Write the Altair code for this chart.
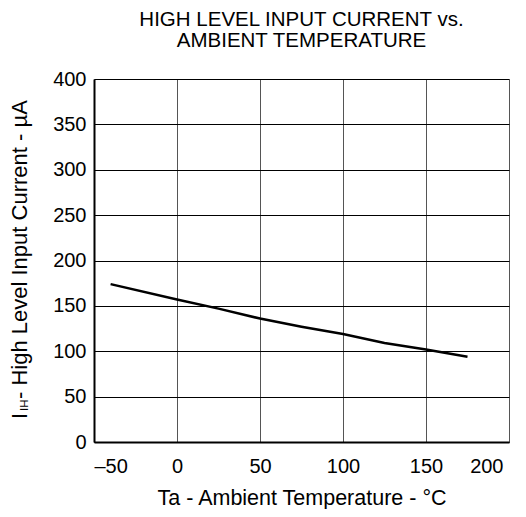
import altair as alt
import pandas as pd

temps = [-40, 0, 25, 50, 75, 100, 125, 150, 175]
current = [174, 157, 147, 136, 127, 119, 109, 102, 94]

title_lines = ["HIGH LEVEL INPUT CURRENT vs.", "AMBIENT TEMPERATURE"]
x_title = "Ta - Ambient Temperature - °C"
y_main = "I"
y_sub = "IH"
y_rest = " - High Level Input Current - µA"

df = pd.DataFrame({"t": temps, "i": current})
FONT = "Liberation Sans"

base = alt.Chart(df)

line = base.mark_line(color="black", strokeWidth=2.5).encode(
    x=alt.X("t:Q", scale=alt.Scale(domain=[-50, 200], nice=False),
            axis=alt.Axis(values=[-50, 0, 50, 100, 150, 200], title=x_title,
                          grid=True, gridColor="#555", gridWidth=1,
                          ticks=False, domain=True, domainColor="black", domainWidth=2,
                          labelFont=FONT, labelFontSize=20, labelColor="black",
                          labelBaseline="alphabetic", labelPadding=30,
                          labelOffset=alt.ExprRef(expr="datum.value == 200 ? -6 : 0"),
                          labelExpr="datum.value < 0 ? '\u2013' + abs(datum.value) : datum.label",
                          titleFont=FONT, titleFontSize=21.5, titleFontWeight="normal",
                          titleColor="black", titleBaseline="alphabetic", titleY=62)),
    y=alt.Y("i:Q", scale=alt.Scale(domain=[0, 400], nice=False),
            axis=alt.Axis(values=[0, 50, 100, 150, 200, 250, 300, 350, 400], title=None,
                          grid=True, gridColor="black", gridWidth=1,
                          ticks=False, domain=True, domainColor="black", domainWidth=2,
                          labelFont=FONT, labelFontSize=20, labelColor="black",
                          labelPadding=8)),
)

lab = pd.DataFrame({"k": [0]})
t_main = alt.Chart(lab).mark_text(angle=270, align="left", baseline="alphabetic",
                                  font=FONT, fontSize=21.5, color="black").encode(
    x=alt.value(-67), y=alt.value(340), text=alt.value(y_main))
t_sub = alt.Chart(lab).mark_text(angle=270, align="left", baseline="alphabetic",
                                 font=FONT, fontSize=11.5, color="black").encode(
    x=alt.value(-66), y=alt.value(332), text=alt.value(y_sub))
t_rest = alt.Chart(lab).mark_text(angle=270, align="left", baseline="alphabetic",
                                  font=FONT, fontSize=22, color="black").encode(
    x=alt.value(-67), y=alt.value(320), text=alt.value(y_rest))

chart = alt.layer(line, t_main, t_sub, t_rest).properties(
    width=415, height=363,
    title=alt.TitleParams(title_lines, font=FONT, fontSize=20.5, fontWeight="normal",
                          color="black", anchor="middle",
                          offset=17.5, lineHeight=21),
    autosize=alt.AutoSizeParams(type="none"),
    padding={"left": 86, "top": 71, "right": 9, "bottom": 67},
).configure_view(stroke="black", strokeWidth=1.5).configure(background="white")

chart.save("out.html", embed_options={"renderer": "svg", "actions": False})
